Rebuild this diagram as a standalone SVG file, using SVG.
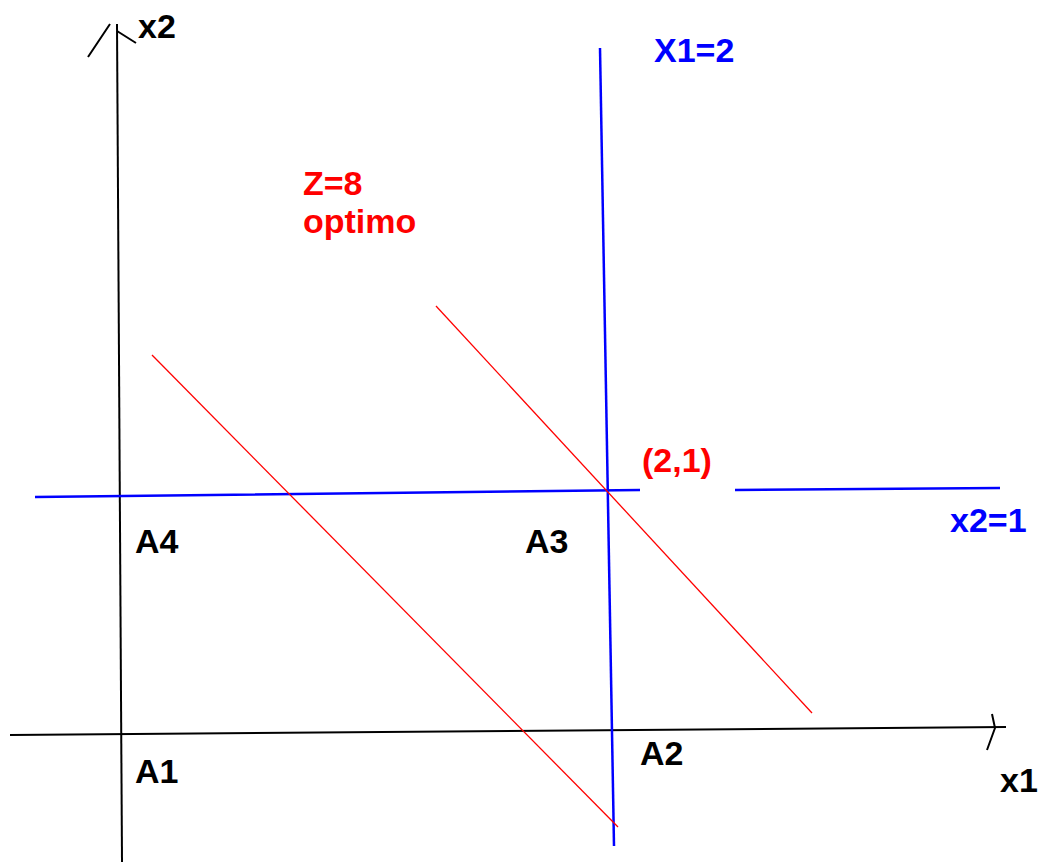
<svg xmlns="http://www.w3.org/2000/svg" width="1040" height="864" viewBox="0 0 1040 864">
<style>
.t{font-family:"Liberation Sans",Arial,sans-serif;font-weight:bold;font-size:34px}
.k{fill:#000}.b{fill:#0000ff}.r{fill:#ff0000}
.ax{stroke:#000;stroke-width:2;fill:none}
.bl{stroke:#0000ff;stroke-width:2.5;fill:none}
.rd{stroke:#ff0000;stroke-width:1.3;fill:none}
</style>
<rect width="1040" height="864" fill="#fff"/>
<g id="connectors">
<path class="ax" d="M117,24 L122,862"/>
<path class="ax" d="M88,57 L110,24 M117,31 L136,43"/>
<path class="ax" d="M10,735 L1006,727"/>
<path class="ax" d="M992,714 L995,728 L987,750"/>
<path class="bl" d="M600,48 L614,846"/>
<path class="bl" d="M35,497 L640,490 M735,490 L1000,488"/>
<path class="rd" d="M436,306 L812,713"/>
<path class="rd" d="M152,355 L618,827"/>
</g>
<g id="label-x2"><text class="t k" x="138" y="38">x2</text></g>
<g id="label-x1"><text class="t k" x="1000" y="792">x1</text></g>
<g id="label-X1eq2"><text class="t b" x="654" y="62">X1=2</text></g>
<g id="label-x2eq1"><text class="t b" x="950" y="532">x2=1</text></g>
<g id="label-z"><text class="t r" x="303" y="195">Z=8</text><text class="t r" x="303" y="233">optimo</text></g>
<g id="label-opt"><text class="t r" x="642" y="472">(2,1)</text></g>
<g id="A4"><text class="t k" x="135" y="553">A4</text></g>
<g id="A3"><text class="t k" x="525" y="553">A3</text></g>
<g id="A1"><text class="t k" x="135" y="783">A1</text></g>
<g id="A2"><text class="t k" x="640" y="765">A2</text></g>
</svg>
